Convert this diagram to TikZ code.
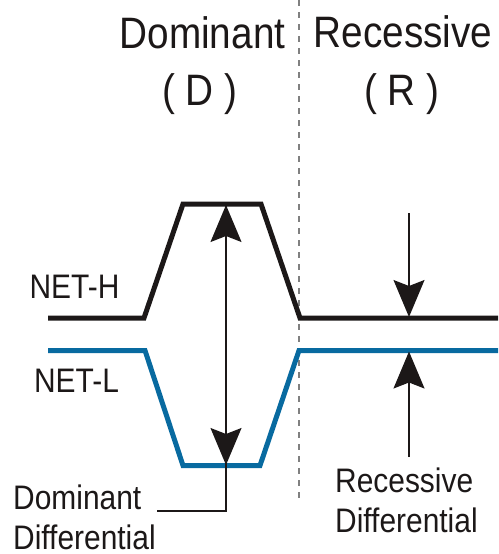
\documentclass[tikz,border=0pt]{standalone}
\usepackage{fontspec}
\setmainfont{Liberation Sans}[FakeStretch=0.88]
\usetikzlibrary{arrows.meta}
\definecolor{netblack}{RGB}{28,24,24}
\definecolor{netblue}{RGB}{8,106,160}
\definecolor{dashgray}{RGB}{128,128,128}
\begin{document}
\begin{tikzpicture}[x=1pt,y=-1pt,
  sig/.style={line width=5pt, line join=miter},
  guide/.style={line width=1.4pt, draw=netblack},
  headarrow/.style={-{Stealth[length=37pt,width=31pt,inset=6pt]}},
  big/.style={font=\fontsize{44}{50}\selectfont, inner sep=0pt, anchor=base, text=netblack},
  small/.style={font=\fontsize{34}{38}\selectfont, inner sep=0pt, anchor=base, text=netblack},
]
\useasboundingbox (0,0) rectangle (498,554);

% divider
\coordinate (vtop) at (298.5,0);
\coordinate (vbot) at (298.5,499);
\draw[dashgray, line width=2pt, dash pattern=on 6pt off 6pt] (vtop) -- (vbot);

% waveforms
\coordinate (h0) at (48,318);
\coordinate (h1) at (144,318);
\coordinate (h2) at (183,204);
\coordinate (h3) at (261,204);
\coordinate (h4) at (300,318);
\coordinate (h5) at (498,318);
\draw[sig, netblack] (h0) -- (h1) -- (h2) -- (h3) -- (h4) -- (h5);

\coordinate (l0) at (48,350.5);
\coordinate (l1) at (145,350.5);
\coordinate (l2) at (183,465.5);
\coordinate (l3) at (260,465.5);
\coordinate (l4) at (299,350.5);
\coordinate (l5) at (498,350.5);
\draw[sig, netblue] (l0) -- (l1) -- (l2) -- (l3) -- (l4) -- (l5);

% dominant differential arrows
\coordinate (da) at (226,205);
\coordinate (db) at (226,465);
\coordinate (dc) at (226,511);
\coordinate (dl) at (157,511);
\draw[guide] (dl) -- (dc) -- (db);
\draw[guide, headarrow, fill=netblack] (dc) -- (da);
\draw[guide, headarrow, fill=netblack] (da) -- (db);

% recessive differential arrows
\coordinate (ra) at (409,213);
\coordinate (rb) at (409,317);
\coordinate (rc) at (409,351.5);
\coordinate (rd) at (409,457);
\draw[guide, headarrow, fill=netblack] (ra) -- (rb);
\draw[guide, headarrow, fill=netblack] (rd) -- (rc);

% labels
\node[big] (tD) at (202.5,48) {Dominant};
\node[big] (tDD) at (200,105) {( D )};
\node[big] (tR) at (403,47) {Recessive};
\node[big] (tRR) at (402,105) {( R )};
\node[small] (nh) at (74.5,298) {NET-H};
\node[small] (nl) at (76.5,392) {NET-L};
\node[small, anchor=base west] (dd1) at (13,509) {Dominant};
\node[small, anchor=base west] (dd2) at (13,549) {Differential};
\node[small, anchor=base west] (rd1) at (335,492) {Recessive};
\node[small, anchor=base west] (rd2) at (335,532) {Differential};
\end{tikzpicture}
\end{document}
